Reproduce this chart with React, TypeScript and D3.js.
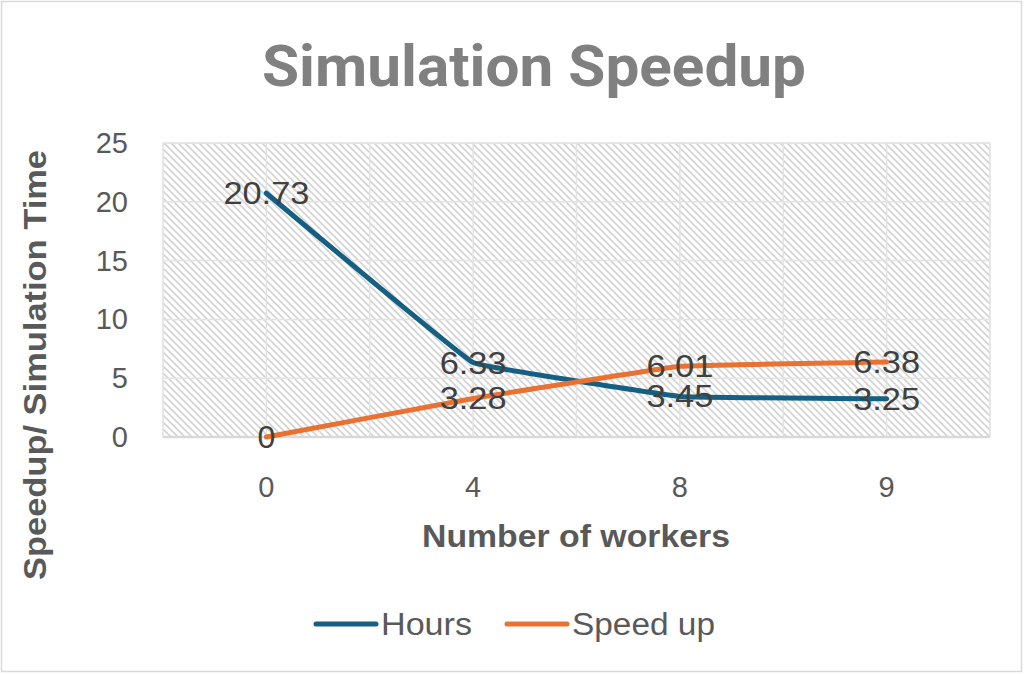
import { scaleBand, scaleLinear, line, curveCardinal } from "d3";

const categories = ["0", "4", "8", "9"];
const hours = [20.73, 6.33, 3.45, 3.25];
const speedup = [0, 3.28, 6.01, 6.38];
const yTicks = [0, 5, 10, 15, 20, 25];

const series = [
  { name: "Hours", values: hours, color: "#156082" },
  { name: "Speed up", values: speedup, color: "#E97132" }
];

export default function App() {
  const width = 1024;
  const height = 674;
  const plot = { left: 163, right: 990, top: 143, bottom: 437 };

  const x = scaleBand().domain(categories).range([plot.left, plot.right]);
  const y = scaleLinear().domain([0, 25]).range([plot.bottom, plot.top]);
  const cx = (c: string) => (x(c) ?? 0) + x.bandwidth() / 2;

  // major + minor vertical gridlines: band edges and centres
  const vGrid: number[] = [];
  categories.forEach((c) => {
    vGrid.push(x(c) ?? 0, cx(c));
  });
  vGrid.push(plot.right);

  // excel's "smoothed" line only rounds the joints a little
  const path = line<number>()
    .x((_, i) => cx(categories[i]))
    .y((d) => y(d))
    .curve(curveCardinal.tension(0.85));

  const font = "'Liberation Sans', Arial, sans-serif";
  const legendWidths = [91, 143];

  return (
    <div style={{ position: "fixed", left: 0, top: 0 }}>
      <svg width={width} height={height} viewBox={`0 0 ${width} ${height}`} style={{ display: "block" }}>
        <defs>
          <pattern id="hatch" width="7" height="7" patternUnits="userSpaceOnUse">
            <rect width="7" height="7" fill="#fff" />
            <path d="M-1,-1 L8,8 M-1,6 L1,8 M6,-1 L8,1" stroke="#d4d4d4" strokeWidth="1.6" />
          </pattern>
        </defs>
        <rect x="0" y="0" width={width} height={height} fill="#fff" />
        <rect x="1.5" y="1.5" width={width - 4} height={height - 4} fill="none" stroke="#d9d9d9" strokeWidth="1.5" />

        <text
          x={534}
          y={86}
          textAnchor="middle"
          fontFamily="Roboto, sans-serif"
          fontWeight="bold"
          fontSize="58"
          fill="#808080"
          textLength={544}
          lengthAdjust="spacingAndGlyphs"
        >
          Simulation Speedup
        </text>

        <rect
          x={plot.left}
          y={plot.top}
          width={plot.right - plot.left}
          height={plot.bottom - plot.top}
          fill="url(#hatch)"
          stroke="#e3e3e3"
          strokeWidth="1"
        />
        {yTicks.slice(1).map((t) => (
          <line key={t} x1={plot.left} x2={plot.right} y1={y(t)} y2={y(t)} stroke="#e3e3e3" strokeWidth="1.5" />
        ))}
        {vGrid.map((gx, i) => (
          <line key={i} x1={gx} x2={gx} y1={plot.top} y2={plot.bottom} stroke="#e3e3e3" strokeWidth="1.5" />
        ))}
        <line x1={plot.left} x2={plot.right} y1={plot.bottom} y2={plot.bottom} stroke="#d9d9d9" strokeWidth="2.5" />

        {yTicks.map((t) => (
          <text key={t} x={128} y={y(t) + 10} textAnchor="end" fontFamily={font} fontSize="29" fill="#595959">
            {t}
          </text>
        ))}
        {categories.map((c) => (
          <text key={c} x={cx(c)} y={497} textAnchor="middle" fontFamily={font} fontSize="29" fill="#595959">
            {c}
          </text>
        ))}

        <text
          x={576}
          y={547}
          textAnchor="middle"
          fontFamily={font}
          fontWeight="bold"
          fontSize="32"
          fill="#595959"
          textLength={308}
          lengthAdjust="spacingAndGlyphs"
        >
          Number of workers
        </text>
        <text
          transform="translate(46,365) rotate(-90)"
          textAnchor="middle"
          fontFamily={font}
          fontWeight="bold"
          fontSize="32"
          fill="#595959"
          textLength={430}
          lengthAdjust="spacingAndGlyphs"
        >
          Speedup/ Simulation Time
        </text>

        {series.map((s) => (
          <path
            key={s.name}
            d={path(s.values) ?? ""}
            fill="none"
            stroke={s.color}
            strokeWidth="5"
            strokeLinecap="round"
            strokeLinejoin="round"
          />
        ))}
        {series.map((s) =>
          s.values.map((v, i) => (
            <text
              key={s.name + i}
              x={cx(categories[i])}
              y={y(v) + 11}
              textAnchor="middle"
              fontFamily={font}
              fontSize="32"
              fill="#404040"
              textLength={String(v).length > 1 ? (String(v).length === 5 ? 86 : 67) : undefined}
              lengthAdjust="spacingAndGlyphs"
            >
              {v}
            </text>
          ))
        )}

        {series.map((s, i) => {
          const lx = i === 0 ? 316 : 507;
          return (
            <g key={s.name}>
              <line x1={lx} x2={lx + 60} y1={624} y2={624} stroke={s.color} strokeWidth="5" strokeLinecap="round" />
              <text
                x={lx + 65}
                y={635}
                fontFamily={font}
                fontSize="31"
                fill="#595959"
                textLength={legendWidths[i]}
                lengthAdjust="spacingAndGlyphs"
              >
                {s.name}
              </text>
            </g>
          );
        })}
      </svg>
    </div>
  );
}
